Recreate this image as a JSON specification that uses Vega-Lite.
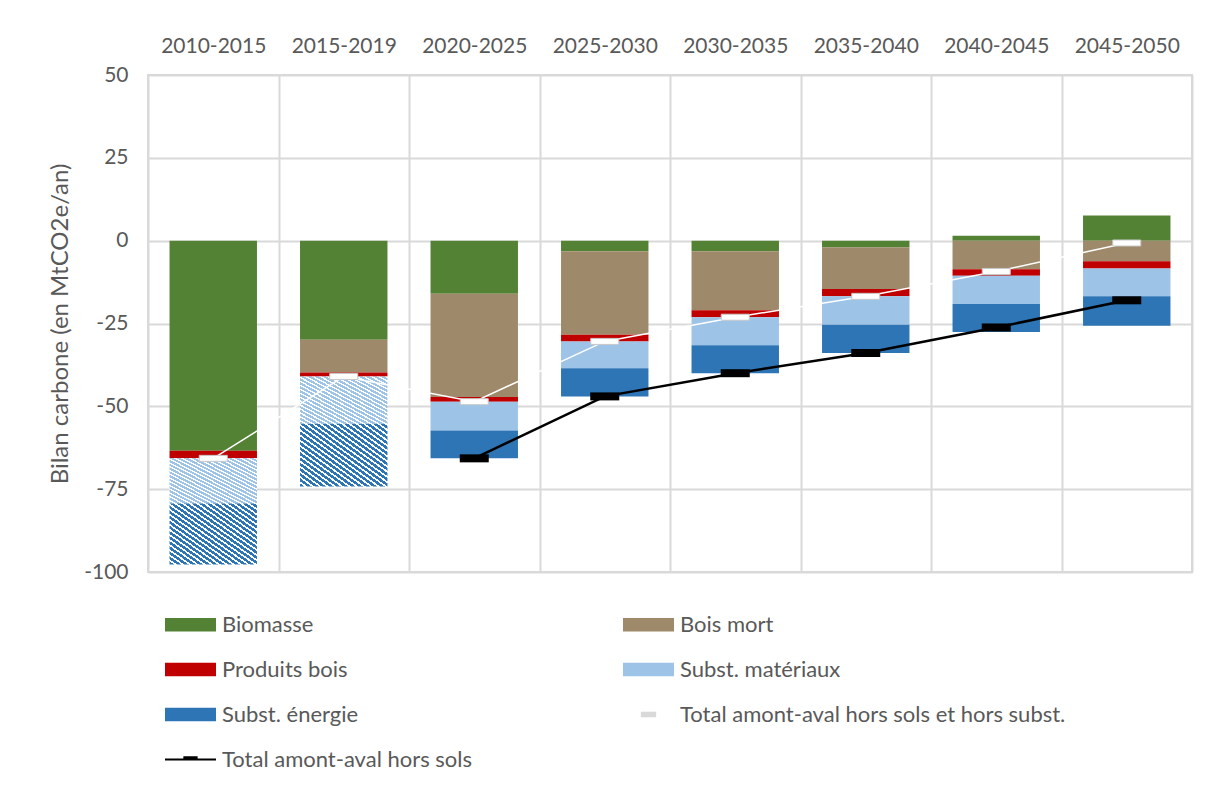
{
"$schema": "https://vega.github.io/schema/vega-lite/v6.json",
"width": 1044,
"height": 497,
"autosize": {"type": "none"},
"padding": {"left": 148, "top": 75, "right": 16, "bottom": 214},
"background": "white",
"config": {
  "font": "Lato",
  "view": {"stroke": "#d9d9d9", "strokeWidth": 2},
  "axis": {"labelFont": "Lato", "labelColor": "#595959", "labelFontSize": 21, "titleFont": "Lato", "titleColor": "#595959", "titleFontSize": 24, "titleFontWeight": "normal", "gridColor": "#d9d9d9", "gridWidth": 2, "domain": false, "ticks": false}
},
"datasets": {
  "barres": [
    {"periode": "2010-2015", "serie": "Biomasse", "valeur": -63.4},
    {"periode": "2010-2015", "serie": "Bois mort", "valeur": 0},
    {"periode": "2010-2015", "serie": "Produits bois", "valeur": -2.3},
    {"periode": "2010-2015", "serie": "Subst. matériaux", "valeur": -13.6},
    {"periode": "2010-2015", "serie": "Subst. énergie", "valeur": -18.4},
    {"periode": "2015-2019", "serie": "Biomasse", "valeur": -29.9},
    {"periode": "2015-2019", "serie": "Bois mort", "valeur": -9.9},
    {"periode": "2015-2019", "serie": "Produits bois", "valeur": -1.2},
    {"periode": "2015-2019", "serie": "Subst. matériaux", "valeur": -14.3},
    {"periode": "2015-2019", "serie": "Subst. énergie", "valeur": -18.9},
    {"periode": "2020-2025", "serie": "Biomasse", "valeur": -16.0},
    {"periode": "2020-2025", "serie": "Bois mort", "valeur": -31.2},
    {"periode": "2020-2025", "serie": "Produits bois", "valeur": -1.4},
    {"periode": "2020-2025", "serie": "Subst. matériaux", "valeur": -8.7},
    {"periode": "2020-2025", "serie": "Subst. énergie", "valeur": -8.4},
    {"periode": "2025-2030", "serie": "Biomasse", "valeur": -3.2},
    {"periode": "2025-2030", "serie": "Bois mort", "valeur": -25.2},
    {"periode": "2025-2030", "serie": "Produits bois", "valeur": -2.0},
    {"periode": "2025-2030", "serie": "Subst. matériaux", "valeur": -8.1},
    {"periode": "2025-2030", "serie": "Subst. énergie", "valeur": -8.5},
    {"periode": "2030-2035", "serie": "Biomasse", "valeur": -3.2},
    {"periode": "2030-2035", "serie": "Bois mort", "valeur": -17.8},
    {"periode": "2030-2035", "serie": "Produits bois", "valeur": -2.1},
    {"periode": "2030-2035", "serie": "Subst. matériaux", "valeur": -8.5},
    {"periode": "2030-2035", "serie": "Subst. énergie", "valeur": -8.4},
    {"periode": "2035-2040", "serie": "Biomasse", "valeur": -2.0},
    {"periode": "2035-2040", "serie": "Bois mort", "valeur": -12.6},
    {"periode": "2035-2040", "serie": "Produits bois", "valeur": -2.2},
    {"periode": "2035-2040", "serie": "Subst. matériaux", "valeur": -8.6},
    {"periode": "2035-2040", "serie": "Subst. énergie", "valeur": -8.5},
    {"periode": "2040-2045", "serie": "Biomasse", "valeur": 1.5},
    {"periode": "2040-2045", "serie": "Bois mort", "valeur": -8.6},
    {"periode": "2040-2045", "serie": "Produits bois", "valeur": -2.0},
    {"periode": "2040-2045", "serie": "Subst. matériaux", "valeur": -8.5},
    {"periode": "2040-2045", "serie": "Subst. énergie", "valeur": -8.5},
    {"periode": "2045-2050", "serie": "Biomasse", "valeur": 7.6},
    {"periode": "2045-2050", "serie": "Bois mort", "valeur": -6.2},
    {"periode": "2045-2050", "serie": "Produits bois", "valeur": -2.2},
    {"periode": "2045-2050", "serie": "Subst. matériaux", "valeur": -8.4},
    {"periode": "2045-2050", "serie": "Subst. énergie", "valeur": -8.9}
  ],
  "totaux": [
    {"periode": "2010-2015", "hors_subst": -65.7, "total": null},
    {"periode": "2015-2019", "hors_subst": -41.0, "total": null},
    {"periode": "2020-2025", "hors_subst": -48.6, "total": -65.7},
    {"periode": "2025-2030", "hors_subst": -30.4, "total": -47.0},
    {"periode": "2030-2035", "hors_subst": -23.1, "total": -40.0},
    {"periode": "2035-2040", "hors_subst": -16.8, "total": -33.9},
    {"periode": "2040-2045", "hors_subst": -9.3, "total": -26.2},
    {"periode": "2045-2050", "hors_subst": -0.7, "total": -18.0}
  ]
},
"layer": [
  {
    "data": {"name": "barres"},
    "mark": {"type": "bar", "width": {"band": 0.67}},
    "encoding": {
      "x": {"field": "periode", "type": "nominal", "title": null,
        "scale": {"domain": ["2010-2015", "2015-2019", "2020-2025", "2025-2030", "2030-2035", "2035-2040", "2040-2045", "2045-2050"], "paddingInner": 0, "paddingOuter": 0},
        "axis": {"orient": "top", "labelAngle": 0, "labelPadding": 19, "tickBand": "extent", "grid": true}},
      "y": {"field": "valeur", "type": "quantitative", "stack": "zero", "title": "Bilan carbone (en MtCO2e/an)",
        "scale": {"domain": [-100, 50], "nice": false, "zero": false},
        "axis": {"values": [-100, -75, -50, -25, 0, 25, 50], "labelExpr": "'' + datum.value", "labelPadding": 20, "titlePadding": 11, "grid": true}},
      "order": {"field": "serie", "type": "ordinal", "sort": "ascending"},
      "color": {
        "field": "serie", "type": "nominal",
        "scale": {
          "domain": ["Biomasse", "Bois mort", "Produits bois", "Subst. matériaux", "Subst. énergie", "Total amont-aval hors sols et hors subst.", "Total amont-aval hors sols"],
          "range": ["#548235", "#9e8a6a", "#c00000", "#9dc3e6", "#2e75b6", "#d9d9d9", "#000000"]
        },
        "legend": {
          "orient": "none", "legendX": 17, "legendY": 524, "columns": 2, "direction": "horizontal", "title": null, "padding": 0,
          "labelFont": "Lato", "labelFontSize": 22, "labelColor": "#595959", "labelLimit": 700, "labelOffset": 6,
          "symbolSize": 2601, "symbolType": "M-1,-0.26H1V0.26H-1Z", "symbolStrokeWidth": 0, "symbolOpacity": 1,
          "rowPadding": 8, "columnPadding": 150,
          "encode": {"symbols": {"update": {"shape": {"signal": "datum.value === 'Total amont-aval hors sols' ? 'M-1,-0.04H1V0.04H-1ZM-0.28,-0.13H0.28V0.04H-0.28Z' : datum.value === 'Total amont-aval hors sols et hors subst.' ? 'M-0.3,-0.11H0.3V0.11H-0.3Z' : 'M-1,-0.26H1V0.26H-1Z'"}}}}
        },
        "condition": [
          {"test": "(datum.periode === '2010-2015' || datum.periode === '2015-2019') && datum.serie === 'Subst. matériaux'",
           "value": {"gradient": "linear", "x1": 0, "y1": 1, "x2": 1, "y2": 0, "stops": [
{"offset":0,"color":"#9dc3e6"},{"offset":0.025,"color":"#9dc3e6"},{"offset":0.025,"color":"#ffffff"},{"offset":0.0417,"color":"#ffffff"},
{"offset":0.0417,"color":"#9dc3e6"},{"offset":0.0667,"color":"#9dc3e6"},{"offset":0.0667,"color":"#ffffff"},{"offset":0.0833,"color":"#ffffff"},
{"offset":0.0833,"color":"#9dc3e6"},{"offset":0.1083,"color":"#9dc3e6"},{"offset":0.1083,"color":"#ffffff"},{"offset":0.125,"color":"#ffffff"},
{"offset":0.125,"color":"#9dc3e6"},{"offset":0.15,"color":"#9dc3e6"},{"offset":0.15,"color":"#ffffff"},{"offset":0.1667,"color":"#ffffff"},
{"offset":0.1667,"color":"#9dc3e6"},{"offset":0.1917,"color":"#9dc3e6"},{"offset":0.1917,"color":"#ffffff"},{"offset":0.2083,"color":"#ffffff"},
{"offset":0.2083,"color":"#9dc3e6"},{"offset":0.2333,"color":"#9dc3e6"},{"offset":0.2333,"color":"#ffffff"},{"offset":0.25,"color":"#ffffff"},
{"offset":0.25,"color":"#9dc3e6"},{"offset":0.275,"color":"#9dc3e6"},{"offset":0.275,"color":"#ffffff"},{"offset":0.2917,"color":"#ffffff"},
{"offset":0.2917,"color":"#9dc3e6"},{"offset":0.3167,"color":"#9dc3e6"},{"offset":0.3167,"color":"#ffffff"},{"offset":0.3333,"color":"#ffffff"},
{"offset":0.3333,"color":"#9dc3e6"},{"offset":0.3583,"color":"#9dc3e6"},{"offset":0.3583,"color":"#ffffff"},{"offset":0.375,"color":"#ffffff"},
{"offset":0.375,"color":"#9dc3e6"},{"offset":0.4,"color":"#9dc3e6"},{"offset":0.4,"color":"#ffffff"},{"offset":0.4167,"color":"#ffffff"},
{"offset":0.4167,"color":"#9dc3e6"},{"offset":0.4417,"color":"#9dc3e6"},{"offset":0.4417,"color":"#ffffff"},{"offset":0.4583,"color":"#ffffff"},
{"offset":0.4583,"color":"#9dc3e6"},{"offset":0.4833,"color":"#9dc3e6"},{"offset":0.4833,"color":"#ffffff"},{"offset":0.5,"color":"#ffffff"},
{"offset":0.5,"color":"#9dc3e6"},{"offset":0.525,"color":"#9dc3e6"},{"offset":0.525,"color":"#ffffff"},{"offset":0.5417,"color":"#ffffff"},
{"offset":0.5417,"color":"#9dc3e6"},{"offset":0.5667,"color":"#9dc3e6"},{"offset":0.5667,"color":"#ffffff"},{"offset":0.5833,"color":"#ffffff"},
{"offset":0.5833,"color":"#9dc3e6"},{"offset":0.6083,"color":"#9dc3e6"},{"offset":0.6083,"color":"#ffffff"},{"offset":0.625,"color":"#ffffff"},
{"offset":0.625,"color":"#9dc3e6"},{"offset":0.65,"color":"#9dc3e6"},{"offset":0.65,"color":"#ffffff"},{"offset":0.6667,"color":"#ffffff"},
{"offset":0.6667,"color":"#9dc3e6"},{"offset":0.6917,"color":"#9dc3e6"},{"offset":0.6917,"color":"#ffffff"},{"offset":0.7083,"color":"#ffffff"},
{"offset":0.7083,"color":"#9dc3e6"},{"offset":0.7333,"color":"#9dc3e6"},{"offset":0.7333,"color":"#ffffff"},{"offset":0.75,"color":"#ffffff"},
{"offset":0.75,"color":"#9dc3e6"},{"offset":0.775,"color":"#9dc3e6"},{"offset":0.775,"color":"#ffffff"},{"offset":0.7917,"color":"#ffffff"},
{"offset":0.7917,"color":"#9dc3e6"},{"offset":0.8167,"color":"#9dc3e6"},{"offset":0.8167,"color":"#ffffff"},{"offset":0.8333,"color":"#ffffff"},
{"offset":0.8333,"color":"#9dc3e6"},{"offset":0.8583,"color":"#9dc3e6"},{"offset":0.8583,"color":"#ffffff"},{"offset":0.875,"color":"#ffffff"},
{"offset":0.875,"color":"#9dc3e6"},{"offset":0.9,"color":"#9dc3e6"},{"offset":0.9,"color":"#ffffff"},{"offset":0.9167,"color":"#ffffff"},
{"offset":0.9167,"color":"#9dc3e6"},{"offset":0.9417,"color":"#9dc3e6"},{"offset":0.9417,"color":"#ffffff"},{"offset":0.9583,"color":"#ffffff"},
{"offset":0.9583,"color":"#9dc3e6"},{"offset":0.9833,"color":"#9dc3e6"},{"offset":0.9833,"color":"#ffffff"},{"offset":1,"color":"#ffffff"}
           ]}},
          {"test": "(datum.periode === '2010-2015' || datum.periode === '2015-2019') && datum.serie === 'Subst. énergie'",
           "value": {"gradient": "linear", "x1": 0, "y1": 1, "x2": 1, "y2": 0, "stops": [
{"offset":0,"color":"#2e75b6"},{"offset":0.025,"color":"#2e75b6"},{"offset":0.025,"color":"#ffffff"},{"offset":0.0417,"color":"#ffffff"},
{"offset":0.0417,"color":"#2e75b6"},{"offset":0.0667,"color":"#2e75b6"},{"offset":0.0667,"color":"#ffffff"},{"offset":0.0833,"color":"#ffffff"},
{"offset":0.0833,"color":"#2e75b6"},{"offset":0.1083,"color":"#2e75b6"},{"offset":0.1083,"color":"#ffffff"},{"offset":0.125,"color":"#ffffff"},
{"offset":0.125,"color":"#2e75b6"},{"offset":0.15,"color":"#2e75b6"},{"offset":0.15,"color":"#ffffff"},{"offset":0.1667,"color":"#ffffff"},
{"offset":0.1667,"color":"#2e75b6"},{"offset":0.1917,"color":"#2e75b6"},{"offset":0.1917,"color":"#ffffff"},{"offset":0.2083,"color":"#ffffff"},
{"offset":0.2083,"color":"#2e75b6"},{"offset":0.2333,"color":"#2e75b6"},{"offset":0.2333,"color":"#ffffff"},{"offset":0.25,"color":"#ffffff"},
{"offset":0.25,"color":"#2e75b6"},{"offset":0.275,"color":"#2e75b6"},{"offset":0.275,"color":"#ffffff"},{"offset":0.2917,"color":"#ffffff"},
{"offset":0.2917,"color":"#2e75b6"},{"offset":0.3167,"color":"#2e75b6"},{"offset":0.3167,"color":"#ffffff"},{"offset":0.3333,"color":"#ffffff"},
{"offset":0.3333,"color":"#2e75b6"},{"offset":0.3583,"color":"#2e75b6"},{"offset":0.3583,"color":"#ffffff"},{"offset":0.375,"color":"#ffffff"},
{"offset":0.375,"color":"#2e75b6"},{"offset":0.4,"color":"#2e75b6"},{"offset":0.4,"color":"#ffffff"},{"offset":0.4167,"color":"#ffffff"},
{"offset":0.4167,"color":"#2e75b6"},{"offset":0.4417,"color":"#2e75b6"},{"offset":0.4417,"color":"#ffffff"},{"offset":0.4583,"color":"#ffffff"},
{"offset":0.4583,"color":"#2e75b6"},{"offset":0.4833,"color":"#2e75b6"},{"offset":0.4833,"color":"#ffffff"},{"offset":0.5,"color":"#ffffff"},
{"offset":0.5,"color":"#2e75b6"},{"offset":0.525,"color":"#2e75b6"},{"offset":0.525,"color":"#ffffff"},{"offset":0.5417,"color":"#ffffff"},
{"offset":0.5417,"color":"#2e75b6"},{"offset":0.5667,"color":"#2e75b6"},{"offset":0.5667,"color":"#ffffff"},{"offset":0.5833,"color":"#ffffff"},
{"offset":0.5833,"color":"#2e75b6"},{"offset":0.6083,"color":"#2e75b6"},{"offset":0.6083,"color":"#ffffff"},{"offset":0.625,"color":"#ffffff"},
{"offset":0.625,"color":"#2e75b6"},{"offset":0.65,"color":"#2e75b6"},{"offset":0.65,"color":"#ffffff"},{"offset":0.6667,"color":"#ffffff"},
{"offset":0.6667,"color":"#2e75b6"},{"offset":0.6917,"color":"#2e75b6"},{"offset":0.6917,"color":"#ffffff"},{"offset":0.7083,"color":"#ffffff"},
{"offset":0.7083,"color":"#2e75b6"},{"offset":0.7333,"color":"#2e75b6"},{"offset":0.7333,"color":"#ffffff"},{"offset":0.75,"color":"#ffffff"},
{"offset":0.75,"color":"#2e75b6"},{"offset":0.775,"color":"#2e75b6"},{"offset":0.775,"color":"#ffffff"},{"offset":0.7917,"color":"#ffffff"},
{"offset":0.7917,"color":"#2e75b6"},{"offset":0.8167,"color":"#2e75b6"},{"offset":0.8167,"color":"#ffffff"},{"offset":0.8333,"color":"#ffffff"},
{"offset":0.8333,"color":"#2e75b6"},{"offset":0.8583,"color":"#2e75b6"},{"offset":0.8583,"color":"#ffffff"},{"offset":0.875,"color":"#ffffff"},
{"offset":0.875,"color":"#2e75b6"},{"offset":0.9,"color":"#2e75b6"},{"offset":0.9,"color":"#ffffff"},{"offset":0.9167,"color":"#ffffff"},
{"offset":0.9167,"color":"#2e75b6"},{"offset":0.9417,"color":"#2e75b6"},{"offset":0.9417,"color":"#ffffff"},{"offset":0.9583,"color":"#ffffff"},
{"offset":0.9583,"color":"#2e75b6"},{"offset":0.9833,"color":"#2e75b6"},{"offset":0.9833,"color":"#ffffff"},{"offset":1,"color":"#ffffff"}
           ]}}
        ]
      }
    }
  },
  {
    "data": {"name": "totaux"},
    "mark": {"type": "line", "color": "#ffffff", "strokeWidth": 1.5},
    "encoding": {
      "x": {"field": "periode", "type": "nominal", "title": null},
      "y": {"field": "hors_subst", "type": "quantitative", "title": "Bilan carbone (en MtCO2e/an)"}
    }
  },
  {
    "data": {"name": "totaux"},
    "mark": {"type": "tick", "orient": "horizontal", "size": 28, "thickness": 6, "color": "#ffffff", "stroke": "#c8c8c8", "strokeWidth": 1, "opacity": 1},
    "encoding": {
      "x": {"field": "periode", "type": "nominal", "title": null},
      "y": {"field": "hors_subst", "type": "quantitative", "title": "Bilan carbone (en MtCO2e/an)"}
    }
  },
  {
    "data": {"name": "totaux"},
    "mark": {"type": "line", "color": "#000000", "strokeWidth": 2.5},
    "encoding": {
      "x": {"field": "periode", "type": "nominal", "title": null},
      "y": {"field": "total", "type": "quantitative", "title": "Bilan carbone (en MtCO2e/an)"}
    }
  },
  {
    "data": {"name": "totaux"},
    "mark": {"type": "tick", "orient": "horizontal", "size": 29, "thickness": 8, "color": "#000000", "opacity": 1},
    "encoding": {
      "x": {"field": "periode", "type": "nominal", "title": null},
      "y": {"field": "total", "type": "quantitative", "title": "Bilan carbone (en MtCO2e/an)"}
    }
  }
]
}
